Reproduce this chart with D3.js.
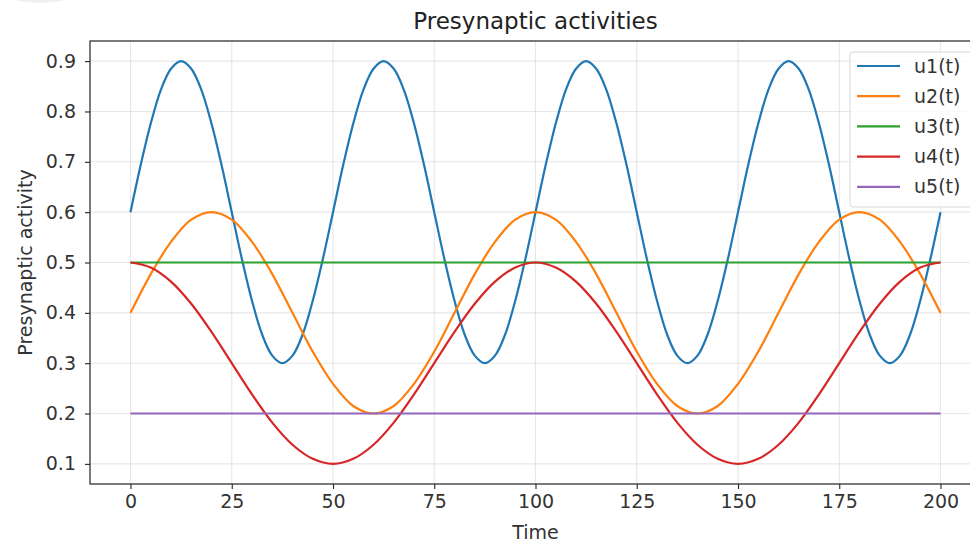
<!DOCTYPE html>
<html>
<head>
<meta charset="utf-8">
<script src="https://cdn.jsdelivr.net/npm/d3@7"></script>
<style>
  html, body { margin: 0; padding: 0; background: #fff; overflow: hidden; }
  svg { display: block; font-family: "DejaVu Sans", sans-serif; }
</style>
</head>
<body>
<script>
"use strict";

// time samples, step 5 (u2..u5)
const time = [0, 5, 10, 15, 20, 25, 30, 35, 40, 45, 50, 55, 60, 65, 70, 75, 80, 85, 90, 95,
    100, 105, 110, 115, 120, 125, 130, 135, 140, 145, 150, 155, 160, 165, 170, 175, 180, 185, 190, 195, 200]

// finer time samples, step 2.5 (u1 moves fast)
const timeFine = [0, 2.5, 5, 7.5, 10, 12.5, 15, 17.5, 20, 22.5, 25, 27.5, 30, 32.5, 35, 37.5, 40, 42.5, 45, 47.5,
    50, 52.5, 55, 57.5, 60, 62.5, 65, 67.5, 70, 72.5, 75, 77.5, 80, 82.5, 85, 87.5, 90, 92.5, 95, 97.5,
    100, 102.5, 105, 107.5, 110, 112.5, 115, 117.5, 120, 122.5, 125, 127.5, 130, 132.5, 135, 137.5, 140, 142.5, 145, 147.5,
    150, 152.5, 155, 157.5, 160, 162.5, 165, 167.5, 170, 172.5, 175, 177.5, 180, 182.5, 185, 187.5, 190, 192.5, 195, 197.5, 200]

const u1 = [0.6, 0.693, 0.776, 0.843, 0.885, 0.9, 0.885, 0.843, 0.776, 0.693, 0.6, 0.507, 0.424, 0.357, 0.315, 0.3, 0.315, 0.357, 0.424, 0.507,
    0.6, 0.693, 0.776, 0.843, 0.885, 0.9, 0.885, 0.843, 0.776, 0.693, 0.6, 0.507, 0.424, 0.357, 0.315, 0.3, 0.315, 0.357, 0.424, 0.507,
    0.6, 0.693, 0.776, 0.843, 0.885, 0.9, 0.885, 0.843, 0.776, 0.693, 0.6, 0.507, 0.424, 0.357, 0.315, 0.3, 0.315, 0.357, 0.424, 0.507,
    0.6, 0.693, 0.776, 0.843, 0.885, 0.9, 0.885, 0.843, 0.776, 0.693, 0.6, 0.507, 0.424, 0.357, 0.315, 0.3, 0.315, 0.357, 0.424, 0.507,
    0.6]

const u2 = [0.4, 0.477, 0.541, 0.585, 0.6, 0.585, 0.541, 0.477, 0.4, 0.323, 0.259, 0.215, 0.2, 0.215, 0.259, 0.323,
    0.4, 0.477, 0.541, 0.585, 0.6, 0.585, 0.541, 0.477, 0.4, 0.323, 0.259, 0.215, 0.2, 0.215, 0.259, 0.323,
    0.4, 0.477, 0.541, 0.585, 0.6, 0.585, 0.541, 0.477, 0.4]

const u3 = [0.5, 0.5, 0.5, 0.5, 0.5, 0.5, 0.5, 0.5, 0.5, 0.5, 0.5, 0.5, 0.5, 0.5, 0.5, 0.5, 0.5, 0.5, 0.5, 0.5,
    0.5, 0.5, 0.5, 0.5, 0.5, 0.5, 0.5, 0.5, 0.5, 0.5, 0.5, 0.5, 0.5, 0.5, 0.5, 0.5, 0.5, 0.5, 0.5, 0.5, 0.5]

const u4 = [0.5, 0.490, 0.462, 0.418, 0.362, 0.3, 0.238, 0.182, 0.138, 0.110,
    0.1, 0.110, 0.138, 0.182, 0.238, 0.3, 0.362, 0.418, 0.462, 0.490,
    0.5, 0.490, 0.462, 0.418, 0.362, 0.3, 0.238, 0.182, 0.138, 0.110,
    0.1, 0.110, 0.138, 0.182, 0.238, 0.3, 0.362, 0.418, 0.462, 0.490, 0.5]

const u5 = [0.2, 0.2, 0.2, 0.2, 0.2, 0.2, 0.2, 0.2, 0.2, 0.2, 0.2, 0.2, 0.2, 0.2, 0.2, 0.2, 0.2, 0.2, 0.2, 0.2,
    0.2, 0.2, 0.2, 0.2, 0.2, 0.2, 0.2, 0.2, 0.2, 0.2, 0.2, 0.2, 0.2, 0.2, 0.2, 0.2, 0.2, 0.2, 0.2, 0.2, 0.2]

const seriesNames = ["u1(t)", "u2(t)", "u3(t)", "u4(t)", "u5(t)"]
const seriesTimes = [timeFine, time, time, time, time]
const seriesValues = [u1, u2, u3, u4, u5]
const colors = ["#1f77b4", "#ff7f0e", "#2ca02c", "#d62728", "#9467bd"]

const xTicks = [0, 25, 50, 75, 100, 125, 150, 175, 200]
const yTicks = [0.1, 0.2, 0.3, 0.4, 0.5, 0.6, 0.7, 0.8, 0.9]

const measurements = {
    width: 970,
    height: 544,
    left: 90,
    right: 981,
    top: 41,
    bottom: 484
}

const svg = d3.select("body").append("svg")
    .attr("width", measurements.width)
    .attr("height", measurements.height)

// faint shadow blob in the top-left corner of the screenshot
svg.append("ellipse")
    .attr("cx", 40).attr("cy", -6)
    .attr("rx", 34).attr("ry", 9)
    .attr("fill", "#e6e6e6")
    .attr("opacity", 0.6)

const scaleX = d3.scaleLinear()
    .domain([-10, 210])
    .range([measurements.left, measurements.right])

const scaleY = d3.scaleLinear()
    .domain([0.06, 0.94])
    .range([measurements.bottom, measurements.top])

// grid
const grid = svg.append("g")
grid.selectAll(".vgrid")
    .data(xTicks)
    .enter()
    .append("line")
        .attr("x1", d => scaleX(d)).attr("x2", d => scaleX(d))
        .attr("y1", measurements.top).attr("y2", measurements.bottom)
        .attr("stroke", "#b0b0b0").attr("stroke-opacity", 0.3).attr("stroke-width", 1.1)
grid.selectAll(".hgrid")
    .data(yTicks)
    .enter()
    .append("line")
        .attr("x1", measurements.left).attr("x2", measurements.right)
        .attr("y1", d => scaleY(d)).attr("y2", d => scaleY(d))
        .attr("stroke", "#b0b0b0").attr("stroke-opacity", 0.3).attr("stroke-width", 1.1)

// lines
const series = seriesValues.map((vals, i) => vals.map((v, j) => [seriesTimes[i][j], v]))

const line = d3.line()
    .x(d => scaleX(d[0]))
    .y(d => scaleY(d[1]))
    .curve(d3.curveCatmullRom.alpha(0.5))

svg.append("g").selectAll("path")
    .data(series)
    .enter()
    .append("path")
        .attr("d", line)
        .attr("fill", "none")
        .attr("stroke", (d, i) => colors[i])
        .attr("stroke-width", 2.2)

// axes
const xAxis = d3.axisBottom(scaleX).tickValues(xTicks).tickFormat(d3.format("d")).tickSizeOuter(0).tickSize(5).tickPadding(6)
const yAxis = d3.axisLeft(scaleY).tickValues(yTicks).tickFormat(d3.format(".1f")).tickSizeOuter(0).tickSize(5).tickPadding(9)

const gx = svg.append("g")
    .attr("transform", "translate(0," + measurements.bottom + ")")
    .call(xAxis)
const gy = svg.append("g")
    .attr("transform", "translate(" + measurements.left + ",0)")
    .call(yAxis)

for (const g of [gx, gy]) {
    g.select(".domain").remove()
    g.selectAll(".tick line").attr("stroke", "#222").attr("stroke-width", 1.1)
    g.selectAll(".tick text")
        .attr("fill", "#333")
        .style("font-family", "DejaVu Sans")
        .style("font-size", "19px")
}

// frame
svg.append("rect")
    .attr("x", measurements.left)
    .attr("y", measurements.top)
    .attr("width", measurements.right - measurements.left)
    .attr("height", measurements.bottom - measurements.top)
    .attr("fill", "none")
    .attr("stroke", "#222")
    .attr("stroke-width", 1.2)

// labels
svg.append("text")
    .attr("x", (measurements.left + measurements.right) / 2)
    .attr("y", 29)
    .attr("text-anchor", "middle")
    .style("font-size", "23px")
    .attr("fill", "#222")
    .text("Presynaptic activities")

svg.append("text")
    .attr("x", (measurements.left + measurements.right) / 2)
    .attr("y", 539)
    .attr("text-anchor", "middle")
    .style("font-size", "19px")
    .attr("fill", "#333")
    .text("Time")

svg.append("text")
    .attr("transform", "translate(32," + ((measurements.top + measurements.bottom) / 2) + ")rotate(-90)")
    .attr("text-anchor", "middle")
    .style("font-size", "19px")
    .attr("fill", "#333")
    .text("Presynaptic activity")

// legend
const legend = svg.append("g")
legend.append("rect")
    .attr("x", 850).attr("y", 52)
    .attr("width", 130).attr("height", 155)
    .attr("rx", 3)
    .attr("fill", "#fff").attr("fill-opacity", 0.8)
    .attr("stroke", "#d8d8d8")

const rows = legend.selectAll(".row")
    .data(seriesNames)
    .enter()
    .append("g")
        .attr("transform", (d, i) => "translate(0," + (66 + i * 30.2) + ")")
rows.append("line")
    .attr("x1", 857).attr("x2", 900)
    .attr("stroke", (d, i) => colors[i])
    .attr("stroke-width", 2.2)
rows.append("text")
    .attr("x", 914)
    .attr("dy", "0.35em")
    .style("font-size", "19px")
    .attr("fill", "#333")
    .text(d => d)
</script>
</body>
</html>
